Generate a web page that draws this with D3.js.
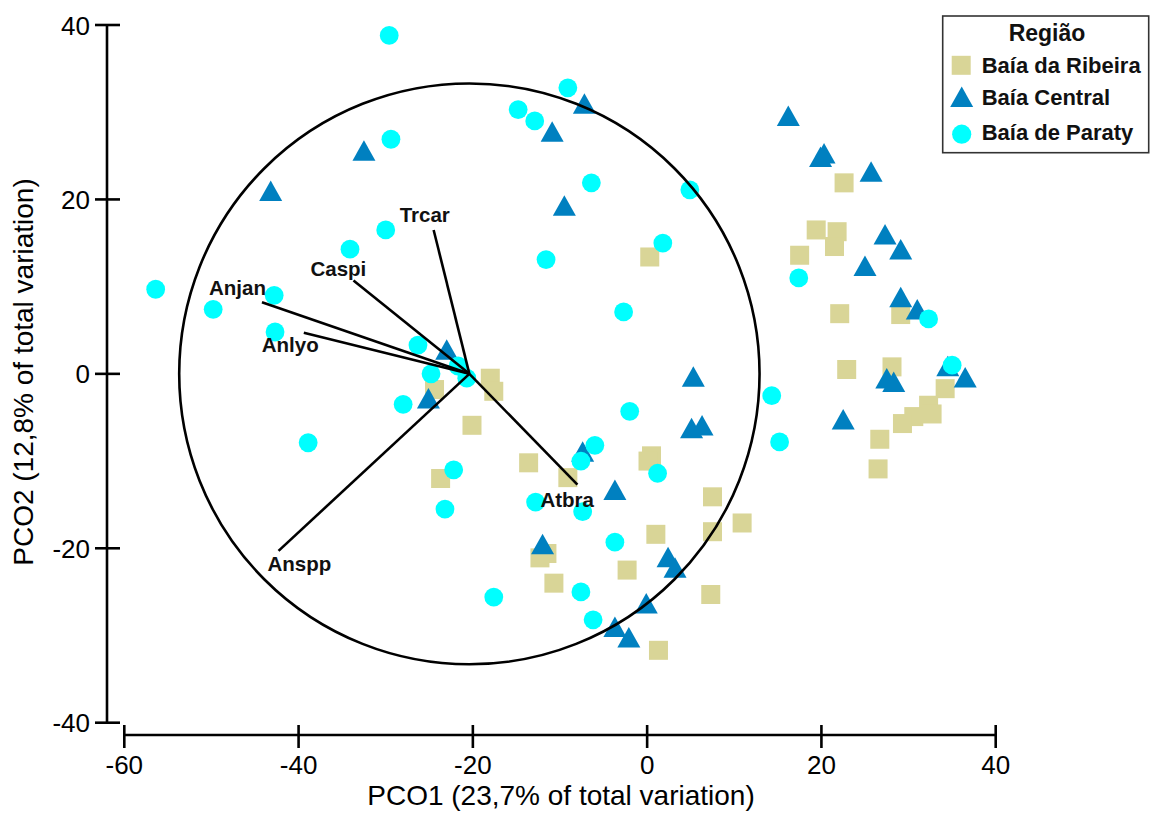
<!DOCTYPE html>
<html>
<head>
<meta charset="utf-8">
<script src="https://cdn.jsdelivr.net/npm/d3@7"></script>
<style>
  html, body { margin: 0; padding: 0; background: #fff; }
  svg { display: block; }
  text { font-family: "Liberation Sans", Arial, Helvetica, sans-serif; }
</style>
</head>
<body>
<svg id="chart" width="1151" height="813"></svg>
<script>
// ---------------- DATA ----------------
const xTicks = [-60, -40, -20, 0, 20, 40];
const yTicks = [-40, -20, 0, 20, 40];
const xTitle = "PCO1 (23,7% of total variation)";
const yTitle = "PCO2 (12,8% of total variation)";
const legendTitle = "Região";
const groups = ["Baía da Ribeira", "Baía Central", "Baía de Paraty"];

// Baía da Ribeira (squares) [PCO1, PCO2]
const ribeira = [
  [22.6, 21.9], [19.4, 16.5], [21.8, 16.3], [21.5, 14.6], [17.5, 13.6], [0.3, 13.4],
  [22.1, 6.9], [29.1, 6.8], [22.9, 0.5], [28.1, 0.8], [34.2, -1.7], [32.3, -3.6],
  [32.7, -4.6], [30.6, -4.9], [29.3, -5.7], [26.7, -7.5], [26.5, -10.9],
  [-18.0, -0.5], [-17.6, -2.0], [-24.4, -1.8], [-20.1, -5.9], [-23.7, -12.0],
  [-13.6, -10.2], [-9.1, -11.9], [0.5, -9.4], [0.1, -10.0], [7.5, -14.1],
  [10.9, -17.1], [7.5, -18.1], [1.0, -18.4], [-11.5, -20.6], [-12.3, -21.1],
  [-10.7, -24.0], [-2.3, -22.5], [7.3, -25.3], [1.3, -31.7]
];
// Baía Central (triangles)
const central = [
  [-43.2, 21.0], [-32.5, 25.6], [-7.2, 31.0], [-10.9, 27.8], [-9.5, 19.3],
  [16.2, 29.6], [19.9, 24.9], [20.3, 25.3], [25.7, 23.2], [27.3, 16.0],
  [29.1, 14.3], [25.0, 12.4], [29.1, 8.8], [31.0, 7.4], [34.5, 0.9], [36.5, -0.4],
  [27.5, -0.5], [28.3, -0.9], [22.5, -5.2], [5.3, -0.3], [5.1, -6.2], [6.3, -5.9],
  [-7.4, -8.9], [-3.7, -13.3], [-12.0, -19.5], [2.4, -21.0], [3.2, -22.2],
  [-0.1, -26.3], [-3.7, -29.0], [-2.1, -30.2], [-23.0, 2.8], [-25.1, -2.8]
];
// Baía de Paraty (circles)
const paraty = [
  [-29.6, 38.8], [-14.8, 30.3], [-12.9, 29.0], [-9.1, 32.8], [-29.4, 26.9],
  [-6.4, 21.9], [4.9, 21.1], [-11.6, 13.1], [1.8, 15.0], [17.4, 11.0],
  [-30.0, 16.5], [-34.1, 14.3], [-56.4, 9.7], [-42.8, 9.0], [-49.8, 7.4],
  [-42.7, 4.8], [-26.3, 3.3], [-24.8, 0.0], [-21.7, 0.9], [-20.7, -0.5],
  [-28.0, -3.5], [-38.9, -7.9], [-22.2, -11.0], [-23.2, -15.5], [-2.7, 7.1],
  [-2.0, -4.3], [14.3, -2.5], [15.2, -7.8], [-6.0, -8.2], [-7.6, -10.0],
  [1.2, -11.4], [-12.8, -14.7], [-7.4, -15.8], [-3.7, -19.3], [32.3, 6.3],
  [35.0, 1.0], [-17.6, -25.6], [-7.6, -25.0], [-6.2, -28.2]
];

// Vector overlay
const vectorOrigin = [-20.4, 0];
const circleRadius = 33.3;
const vectorNames = ["Anjan", "Anlyo", "Anspp", "Caspi", "Trcar", "Atbra"];
const vectorEnds = [
  [-44.2, 8.2], [-39.4, 4.7], [-42.3, -20.3], [-33.7, 10.7], [-24.5, 16.5], [-8.0, -12.7]
];

// ---------------- LAYOUT ----------------
const svg = d3.select("#chart");
const x = d3.scaleLinear().domain([-60, 40]).range([124.3, 995.7]);
const y = d3.scaleLinear().domain([-40, 40]).range([722.7, 25]);
const yAxisX = 107;
const xAxisY = 735;

const colors = { sq: "#D9D597", tri: "#0080C0", circ: "#00FFFF" };
const SQ = 19, TRI_W = 23, TRI_H = 20.5, CR = 9.4;

function triPath(cx, cy, w, h) {
  return `M${cx},${cy - h / 2}L${cx + w / 2},${cy + h / 2}L${cx - w / 2},${cy + h / 2}Z`;
}

// Axes
const axisG = svg.append("g");
axisG.append("line").attr("x1", yAxisX).attr("x2", yAxisX)
  .attr("y1", y(40)).attr("y2", y(-40)).attr("stroke", "#000").attr("stroke-width", 2.6);
axisG.selectAll(".ytick").data(yTicks).enter().append("line")
  .attr("x1", yAxisX - 12).attr("x2", yAxisX + 13)
  .attr("y1", d => y(d)).attr("y2", d => y(d))
  .attr("stroke", "#000").attr("stroke-width", 2.6);
axisG.selectAll(".ylab").data(yTicks).enter().append("text")
  .attr("x", 90).attr("y", d => y(d) + 9.5)
  .attr("text-anchor", "end").attr("font-size", 26).attr("fill", "#000")
  .text(d => d);

axisG.append("line").attr("x1", x(-60)).attr("x2", x(40))
  .attr("y1", xAxisY).attr("y2", xAxisY).attr("stroke", "#000").attr("stroke-width", 2.6);
axisG.selectAll(".xtick").data(xTicks).enter().append("line")
  .attr("x1", d => x(d)).attr("x2", d => x(d))
  .attr("y1", xAxisY - 10).attr("y2", xAxisY + 13)
  .attr("stroke", "#000").attr("stroke-width", 2.6);
axisG.selectAll(".xlab").data(xTicks).enter().append("text")
  .attr("x", d => x(d)).attr("y", 774)
  .attr("text-anchor", "middle").attr("font-size", 26).attr("fill", "#000")
  .text(d => d);

svg.append("text").attr("x", 561).attr("y", 805).attr("text-anchor", "middle")
  .attr("font-size", 28).attr("fill", "#000").text(xTitle);
svg.append("text").attr("transform", "translate(33,372) rotate(-90)")
  .attr("text-anchor", "middle").attr("font-size", 28).attr("fill", "#000").text(yTitle);

// Points
const pts = svg.append("g");
pts.selectAll(".sq").data(ribeira).enter().append("rect")
  .attr("x", d => x(d[0]) - SQ / 2).attr("y", d => y(d[1]) - SQ / 2)
  .attr("width", SQ).attr("height", SQ).attr("fill", colors.sq);
pts.selectAll(".tri").data(central).enter().append("path")
  .attr("d", d => triPath(x(d[0]), y(d[1]), TRI_W, TRI_H)).attr("fill", colors.tri);
pts.selectAll(".circ").data(paraty).enter().append("circle")
  .attr("cx", d => x(d[0])).attr("cy", d => y(d[1])).attr("r", CR).attr("fill", colors.circ);

// Circle and vectors
const ox = x(vectorOrigin[0]), oy = y(vectorOrigin[1]);
svg.append("ellipse").attr("cx", ox).attr("cy", oy)
  .attr("rx", x(vectorOrigin[0] + circleRadius) - ox)
  .attr("ry", oy - y(vectorOrigin[1] + circleRadius))
  .attr("fill", "none").attr("stroke", "#000").attr("stroke-width", 2.6);
svg.selectAll(".vec").data(vectorEnds).enter().append("line")
  .attr("x1", ox).attr("y1", oy)
  .attr("x2", d => x(d[0])).attr("y2", d => y(d[1]))
  .attr("stroke", "#000").attr("stroke-width", 2.6);

// vector labels (offsets relative to arrow tip, in px)
const labelOffsets = [[-53, -7], [-42, 19], [-11, 20], [-43, -5], [-34, -8], [-37, 22]];
svg.selectAll(".vlab").data(vectorEnds).enter().append("text")
  .attr("x", (d, i) => x(d[0]) + labelOffsets[i][0])
  .attr("y", (d, i) => y(d[1]) + labelOffsets[i][1])
  .attr("font-size", 20.5).attr("font-weight", "bold").attr("fill", "#111")
  .text((d, i) => vectorNames[i]);

// Legend
const lg = svg.append("g");
lg.append("rect").attr("x", 942.7).attr("y", 16).attr("width", 206).attr("height", 136.7)
  .attr("fill", "#fff").attr("stroke", "#333").attr("stroke-width", 1.6);
lg.append("text").attr("x", 1047).attr("y", 40.7).attr("text-anchor", "middle")
  .attr("font-size", 23).attr("font-weight", "bold").attr("fill", "#111").text(legendTitle);
const legendY = [65.3, 96.7, 134.2];
const baseY = [73.3, 105, 140];
lg.append("rect").attr("x", 961.2 - SQ / 2).attr("y", legendY[0] - SQ / 2)
  .attr("width", SQ).attr("height", SQ).attr("fill", colors.sq);
lg.append("path").attr("d", triPath(961.7, legendY[1], TRI_W, TRI_H)).attr("fill", colors.tri);
lg.append("circle").attr("cx", 961.7).attr("cy", legendY[2]).attr("r", 9.6).attr("fill", colors.circ);
lg.selectAll(".ltxt").data(groups).enter().append("text")
  .attr("x", 981.7).attr("y", (d, i) => baseY[i])
  .attr("font-size", 22).attr("font-weight", "bold").attr("fill", "#111")
  .text(d => d);
</script>
</body>
</html>
